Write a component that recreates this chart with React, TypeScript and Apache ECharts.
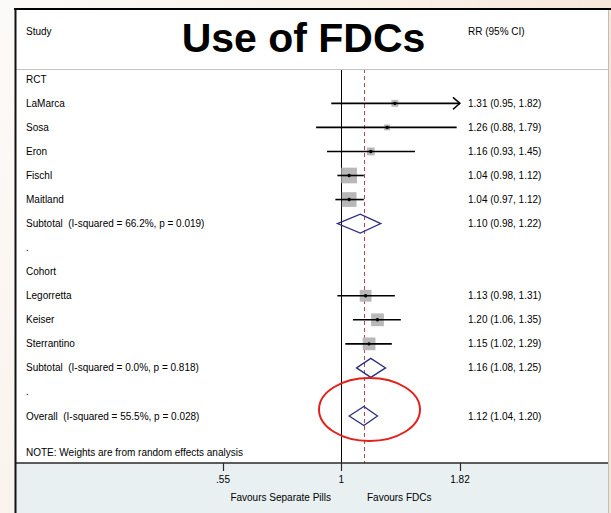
import React, { useEffect, useRef } from "react";
import * as echarts from "echarts";

// ---------- data ----------
const rowLabels = [
  "RCT",
  "LaMarca",
  "Sosa",
  "Eron",
  "Fischl",
  "Maitland",
  "Subtotal  (I-squared = 66.2%, p = 0.019)",
  ".",
  "Cohort",
  "Legorretta",
  "Keiser",
  "Sterrantino",
  "Subtotal  (I-squared = 0.0%, p = 0.818)",
  ".",
  "Overall  (I-squared = 55.5%, p = 0.028)",
];
const rowKinds = [
  "group", "study", "study", "study", "study", "study", "pooled", "blank",
  "group", "study", "study", "study", "pooled", "blank", "pooled",
];
const riskRatios = [null, 1.31, 1.26, 1.16, 1.04, 1.04, 1.10, null, null, 1.13, 1.20, 1.15, 1.16, null, 1.12];
const lowerCI = [null, 0.95, 0.88, 0.93, 0.98, 0.97, 0.98, null, null, 0.98, 1.06, 1.02, 1.08, null, 1.04];
const upperCI = [null, 1.82, 1.79, 1.45, 1.12, 1.12, 1.22, null, null, 1.31, 1.35, 1.29, 1.25, null, 1.20];
const studyWeights = [null, 5, 3.6, 6.4, 25.6, 22.5, null, null, null, 14.4, 16.9, 16.9, null, null, null];
const xTickValues = [0.55, 1, 1.82];
const xTickLabels = [".55", "1", "1.82"];
const overallRR = 1.12;

const titleText = "Use of FDCs";
const leftHeader = "Study";
const rightHeader = "RR (95% CI)";
const footnote = "NOTE: Weights are from random effects analysis";
const favourLeft = "Favours Separate Pills";
const favourRight = "Favours FDCs";

// ---------- layout ----------
const FONT = '"Liberation Sans", Arial, Helvetica, sans-serif';
const TEXT_COLOR = "#000";
const GRID_LEFT = 16;
const GRID_RIGHT_X = 608;
const GRID_TOP = 69;
const GRID_BOTTOM_Y = 463;
const X_ONE = 341.4;
const PX_PER_LN = 198;
const axisMin = Math.exp(-(X_ONE - GRID_LEFT) / PX_PER_LN);
const axisMax = Math.exp((GRID_RIGHT_X - X_ONE) / PX_PER_LN);
const ROW_STEP = 24.05;
const ROW0_Y = 79.3;
const yMin = -(ROW0_Y - GRID_TOP) / ROW_STEP;
const yMax = yMin + (GRID_BOTTOM_Y - GRID_TOP) / ROW_STEP;

const fmt = (v: number) => v.toFixed(2);

const textStyle = (text: string, align: string, extra: any = {}) => ({
  text,
  fill: TEXT_COLOR,
  fontSize: 10,
  fontFamily: FONT,
  textAlign: align,
  textVerticalAlign: "middle",
  align,
  verticalAlign: "middle",
  ...extra,
});

export default function App() {
  const ref = useRef<HTMLDivElement>(null);

  useEffect(() => {
    if (!ref.current) return;
    const chart = echarts.init(ref.current, undefined, { renderer: "svg" });

    const markData: number[][] = [];
    riskRatios.forEach((rr, i) => {
      if (rr == null) return;
      markData.push([
        rr,
        i,
        lowerCI[i] as number,
        upperCI[i] as number,
        rowKinds[i] === "pooled" ? 1 : 0,
        (studyWeights[i] as number) || 0,
      ]);
    });
    const textData = rowLabels.map((_, i) => [1, i]);
    const arrowLimit = xTickValues[xTickValues.length - 1];

    const option: any = {
      animation: false,
      backgroundColor: new echarts.graphic.LinearGradient(0, 0, 1, 0.4, [
        { offset: 0, color: "#fcfaf8" },
        { offset: 0.6, color: "#f9efe6" },
        { offset: 1, color: "#f5e3d5" },
      ]),
      grid: {
        left: GRID_LEFT,
        right: 611 - GRID_RIGHT_X,
        top: GRID_TOP,
        bottom: 513 - GRID_BOTTOM_Y,
      },
      xAxis: {
        type: "log",
        logBase: 10,
        min: axisMin,
        max: axisMax,
        z: 4,
        axisLine: { show: true, onZero: false, lineStyle: { color: "#2a2a2a", width: 1.5 } },
        axisTick: {
          show: true,
          customValues: xTickValues,
          length: 8,
          lineStyle: { color: "#2a2a2a", width: 1.2 },
        },
        axisLabel: {
          show: true,
          customValues: xTickValues,
          margin: 11,
          fontSize: 10,
          fontFamily: FONT,
          color: TEXT_COLOR,
          formatter: (v: number) => {
            let best = 0;
            xTickValues.forEach((t, i) => {
              if (Math.abs(t - v) < Math.abs(xTickValues[best] - v)) best = i;
            });
            return xTickLabels[best];
          },
        },
        splitLine: { show: false },
        minorTick: { show: false },
        minorSplitLine: { show: false },
      },
      yAxis: {
        type: "value",
        min: yMin,
        max: yMax,
        inverse: true,
        show: false,
        splitLine: { show: false },
      },
      series: [
        {
          type: "custom",
          name: "marks",
          z: 3,
          dimensions: ["rr", "row", "lo", "hi", "pooled", "w"],
          encode: { x: 0, y: 1 },
          data: markData,
          markLine: {
            silent: true,
            symbol: "none",
            label: { show: false },
            z: 1,
            data: [
              { xAxis: 1, lineStyle: { color: "#000", width: 1, type: "solid" } },
              { xAxis: overallRR, lineStyle: { color: "#a84a4a", width: 1, type: [4, 3] } },
            ],
          },
          renderItem: (params: any, api: any) => {
            const rr = api.value(0);
            const row = api.value(1);
            const lo = api.value(2);
            const hi = api.value(3);
            const pooled = api.value(4);
            const w = api.value(5);
            const c = api.coord([rr, row]);
            const a = api.coord([lo, row]);
            const b = api.coord([hi, row]);
            const y = c[1];
            if (pooled === 1) {
              return {
                type: "polygon",
                shape: {
                  points: [
                    [a[0], y],
                    [c[0], y - 9.5],
                    [b[0], y],
                    [c[0], y + 9.5],
                  ],
                },
                style: { fill: "none", stroke: "#2e2e80", lineWidth: 1.3 },
              };
            }
            const s = Math.sqrt(w) * 3.1;
            const children: any[] = [
              {
                type: "rect",
                shape: { x: c[0] - s / 2, y: y - s / 2, width: s, height: s },
                style: { fill: "#b8b8b8" },
              },
              {
                type: "line",
                shape: { x1: a[0], y1: y, x2: b[0], y2: y },
                style: { stroke: "#000", lineWidth: 1.6 },
              },
              {
                type: "circle",
                shape: { cx: c[0], cy: y, r: 1.7 },
                style: { fill: "#000" },
              },
            ];
            if (hi >= arrowLimit) {
              children.push({
                type: "polyline",
                shape: {
                  points: [
                    [b[0] - 7, y - 6],
                    [b[0], y],
                    [b[0] - 7, y + 6],
                  ],
                },
                style: { fill: "none", stroke: "#000", lineWidth: 1.4 },
              });
            }
            return { type: "group", children };
          },
        },
        {
          type: "custom",
          name: "labels",
          z: 4,
          silent: true,
          dimensions: ["x", "row"],
          encode: { x: 0, y: 1 },
          data: textData,
          renderItem: (params: any, api: any) => {
            const row = api.value(1);
            const y = api.coord([1, row])[1];
            const children: any[] = [
              { type: "text", x: 26, y, style: textStyle(rowLabels[row], "left") },
            ];
            const rr = riskRatios[row];
            if (rr != null) {
              children.push({
                type: "text",
                x: 468,
                y,
                style: textStyle(
                  `${fmt(rr)} (${fmt(lowerCI[row] as number)}, ${fmt(upperCI[row] as number)})`,
                  "left"
                ),
              });
            }
            return { type: "group", children };
          },
        },
      ],
      graphic: {
        elements: [
          {
            type: "rect",
            z: -10,
            silent: true,
            shape: { x: 16, y: 10, width: 592, height: 453 },
            style: { fill: "#ffffff" },
          },
          {
            type: "rect",
            z: -10,
            silent: true,
            shape: { x: 16, y: 463, width: 592, height: 50 },
            style: { fill: "#e8f0f2" },
          },
          {
            type: "line",
            z: 5,
            silent: true,
            shape: { x1: 16, y1: 69.5, x2: 608, y2: 69.5 },
            style: { stroke: "#c4c4c4", lineWidth: 1 },
          },
          {
            type: "line",
            z: 5,
            silent: true,
            shape: { x1: 608.5, y1: 10, x2: 608.5, y2: 513 },
            style: { stroke: "#bdbdbd", lineWidth: 1 },
          },
          {
            type: "line",
            z: 6,
            silent: true,
            shape: { x1: 14, y1: 9, x2: 611, y2: 9 },
            style: { stroke: "#000", lineWidth: 2 },
          },
          {
            type: "line",
            z: 6,
            silent: true,
            shape: { x1: 15.5, y1: 8, x2: 15.5, y2: 513 },
            style: { stroke: "#111", lineWidth: 2 },
          },
          { type: "text", z: 6, x: 26, y: 31.5, style: textStyle(leftHeader, "left") },
          { type: "text", z: 6, x: 468, y: 31.5, style: textStyle(rightHeader, "left") },
          {
            type: "text",
            z: 6,
            x: 303.5,
            y: 37.5,
            style: textStyle(titleText, "center", { fontSize: 41, fontWeight: "bold" }),
          },
          { type: "text", z: 6, x: 26, y: 452, style: textStyle(footnote, "left") },
          { type: "text", z: 6, x: 331, y: 497, style: textStyle(favourLeft, "right") },
          { type: "text", z: 6, x: 367, y: 497, style: textStyle(favourRight, "left") },
          {
            type: "ellipse",
            z: 7,
            silent: true,
            shape: { cx: 369.5, cy: 409.5, rx: 50.5, ry: 31.5 },
            style: { fill: "none", stroke: "#e3201b", lineWidth: 2 },
          },
        ],
      },
    };

    chart.setOption(option);
    return () => chart.dispose();
  }, []);

  return (
    <div
      ref={ref}
      style={{ position: "absolute", left: 0, top: 0, width: 611, height: 513 }}
    />
  );
}
